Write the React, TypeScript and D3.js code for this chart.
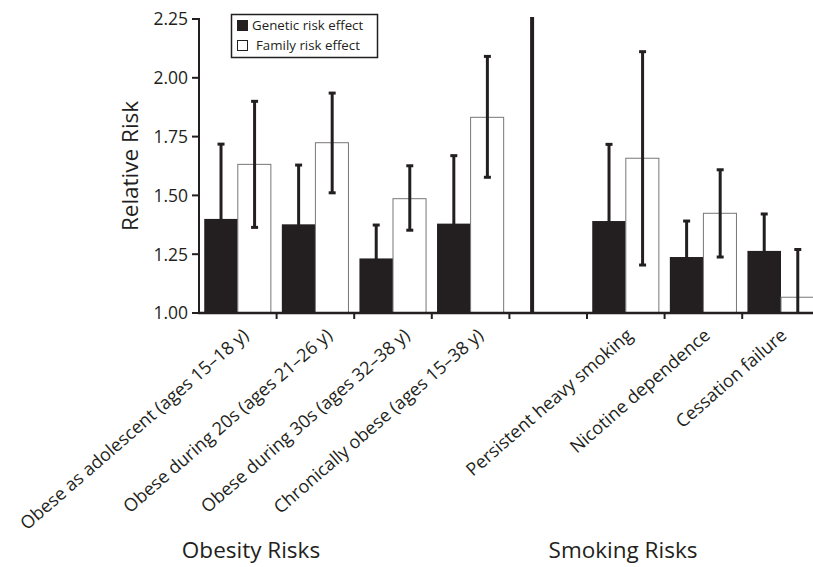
import React from "react";
import * as d3 from "d3";

const categories = [
  "Obese as adolescent (ages 15–18 y)",
  "Obese during 20s (ages 21–26 y)",
  "Obese during 30s (ages 32–38 y)",
  "Chronically obese (ages 15–38 y)",
  "",
  "Persistent heavy smoking",
  "Nicotine dependence",
  "Cessation failure",
];
const geneticValue = [1.4, 1.377, 1.232, 1.38, NaN, 1.391, 1.238, 1.264];
const geneticHigh = [1.718, 1.629, 1.374, 1.669, NaN, 1.717, 1.391, 1.421];
const geneticLow = [1.12, 1.16, 1.1, 1.12, NaN, 1.1, 1.1, 1.12];
const familyValue = [1.632, 1.724, 1.486, 1.832, NaN, 1.658, 1.424, 1.067];
const familyHigh = [1.9, 1.935, 1.626, 2.091, NaN, 2.111, 1.609, 1.27];
const familyLow = [1.364, 1.511, 1.352, 1.577, NaN, 1.204, 1.238, 0.86];
const yTicks = [1.0, 1.25, 1.5, 1.75, 2.0, 2.25];
const groupLabels = ["Obesity Risks", "Smoking Risks"];
const legendLabels = ["Genetic risk effect", "Family risk effect"];
const series = ["genetic", "family"];

const W = 813;
const H = 567;
const FONT = "'Open Sans', sans-serif";
const INK = "#231f20";
const LABEL_SHIFT = [12, 18, 18, 14, 0, 8, 8, 7];

export default function App() {
  const left = 199;
  const baseline = 313;
  const x = d3
    .scaleBand<string>()
    .domain(categories.map((_, i) => String(i)))
    .range([left, left + 77.6 * 8])
    .paddingInner(0.135)
    .paddingOuter(0.0675);
  const xs = d3.scaleBand<string>().domain(series).range([0, x.bandwidth()]);
  const y = d3.scaleLinear().domain([1, 2.25]).range([baseline, 19]);
  const step = x.step();
  const slotStart = (i: number) => left + i * step;

  const errBar = (cx: number, lo: number, hi: number, key: string) => (
    <g key={key}>
      <line x1={cx} x2={cx} y1={y(lo)} y2={y(hi)} stroke={INK} strokeWidth={3} />
      <line x1={cx - 3.5} x2={cx + 3.5} y1={y(hi)} y2={y(hi)} stroke={INK} strokeWidth={3} />
      <line x1={cx - 3.5} x2={cx + 3.5} y1={y(lo)} y2={y(lo)} stroke={INK} strokeWidth={3} />
    </g>
  );

  return (
    <svg
      width={W}
      height={H}
      style={{ position: "absolute", left: 0, top: 0, background: "#fff" }}
      fontFamily={FONT}
    >
      <defs>
        <clipPath id="plot">
          <rect x={left} y={0} width={W - left} height={baseline - 0} />
        </clipPath>
      </defs>
      <g clipPath="url(#plot)">
        {categories.map((c, i) => {
          if (isNaN(geneticValue[i])) return null;
          const bx = x(String(i))!;
          const gx = bx + xs("genetic")!;
          const fx = bx + xs("family")!;
          const bw = xs.bandwidth();
          return (
            <g key={i}>
              <rect x={gx} y={y(geneticValue[i])} width={bw} height={baseline - y(geneticValue[i])} fill={INK} />
              <rect
                x={fx}
                y={y(familyValue[i])}
                width={bw - 0.5}
                height={baseline - y(familyValue[i])}
                fill="#fff"
                stroke="#777"
                strokeWidth={1}
              />
              {errBar(gx + bw / 2, geneticLow[i], geneticHigh[i], "g" + i)}
              {errBar(fx + bw / 2, familyLow[i], familyHigh[i], "f" + i)}
            </g>
          );
        })}
      </g>
      {/* separator */}
      <line
        x1={x("4")! + x.bandwidth() * 0.26}
        x2={x("4")! + x.bandwidth() * 0.26}
        y1={17}
        y2={baseline}
        stroke={INK}
        strokeWidth={4}
      />
      {/* axes */}
      <line x1={left} x2={left} y1={y(2.25) - 1} y2={baseline + 1} stroke={INK} strokeWidth={2} />
      <line x1={left - 1} x2={W} y1={baseline} y2={baseline} stroke={INK} strokeWidth={2.5} />
      {yTicks.map((t) => (
        <g key={t}>
          <line x1={left - 7} x2={left} y1={y(t)} y2={y(t)} stroke={INK} strokeWidth={2} />
          <text x={left - 11} y={y(t)} dy="0.36em" textAnchor="end" fontSize={17.5} fill={INK}>
            {t.toFixed(2)}
          </text>
        </g>
      ))}
      {categories.map((_, i) =>
        i === 0 ? null : (
          <line key={"t" + i} x1={slotStart(i)} x2={slotStart(i)} y1={baseline} y2={baseline + 6} stroke={INK} strokeWidth={2} />
        )
      )}
      <text
        transform={`translate(138,166) rotate(-90)`}
        textAnchor="middle"
        fontSize={22.5}
        fill={INK}
      >
        Relative Risk
      </text>
      {/* category labels */}
      {categories.map((c, i) => {
        const cx = x(String(i))! + x.bandwidth() / 2 + LABEL_SHIFT[i];
        return (
          <text
            key={"l" + i}
            transform={`translate(${cx},${baseline + 24}) rotate(-41)`}
            textAnchor="end"
            fontSize={18}
            fill={INK}
          >
            {c}
          </text>
        );
      })}
      <text x={251} y={558} textAnchor="middle" fontSize={22.5} fill={INK}>
        {groupLabels[0]}
      </text>
      <text x={623} y={558} textAnchor="middle" fontSize={22.5} fill={INK}>
        {groupLabels[1]}
      </text>
      {/* legend */}
      <g>
        <rect x={231.5} y={14.5} width={146} height={43} fill="#fff" stroke={INK} strokeWidth={1.5} />
        <rect x={237} y={20} width={11} height={11} fill={INK} />
        <text x={252} y={30} fontSize={13.3} fill={INK}>
          {legendLabels[0]}
        </text>
        <rect x={237.5} y={40.5} width={10} height={10} fill="#fff" stroke={INK} strokeWidth={1} />
        <text x={256} y={50} fontSize={13.3} fill={INK}>
          {legendLabels[1]}
        </text>
      </g>
    </svg>
  );
}
